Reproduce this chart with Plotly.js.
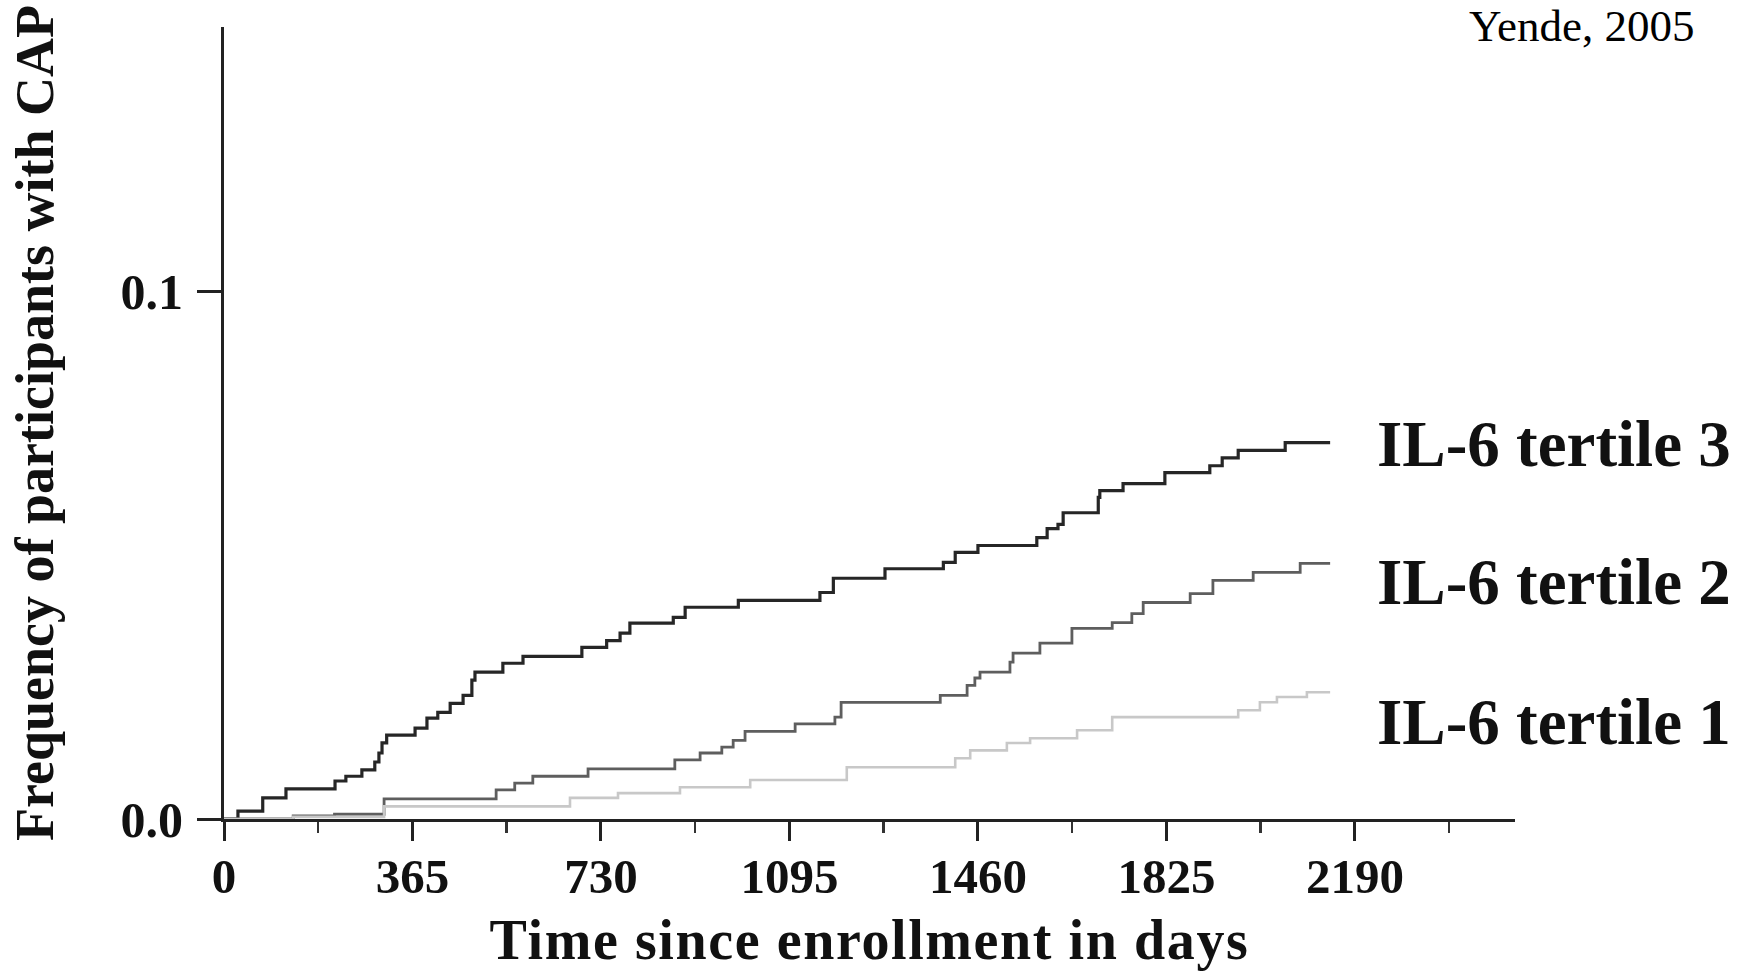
<!DOCTYPE html>
<html>
<head>
<meta charset="utf-8">
<script src="https://cdn.plot.ly/plotly-3.0.1.min.js"></script>
<style>
  html, body { margin: 0; padding: 0; background: #ffffff; }
  #chart { width: 1747px; height: 971px; }
  #chart text.xtitle { letter-spacing: 1.6px; }
</style>
</head>
<body>
<div id="chart"></div>
<script>
// ---- Data ----
const seriesNames = ["IL-6 tertile 3", "IL-6 tertile 2", "IL-6 tertile 1"];

const tertile3Days = [0, 27, 75, 120, 215, 236, 267, 292, 300, 306, 315, 370, 393, 414, 438, 463, 480, 486, 540, 579, 693, 741, 767, 786, 870, 893, 996, 1154, 1180, 1280, 1393, 1416, 1460, 1574, 1594, 1615, 1625, 1693, 1696, 1741, 1822, 1909, 1933, 1964, 2055, 2142];
const tertile3Vals = [0, 0.0015, 0.0040, 0.0057, 0.0072, 0.0081, 0.0093, 0.0108, 0.0125, 0.0144, 0.0159, 0.0172, 0.0191, 0.0202, 0.0219, 0.0234, 0.0263, 0.0278, 0.0295, 0.0308, 0.0325, 0.0338, 0.0352, 0.0371, 0.0382, 0.0401, 0.0414, 0.0429, 0.0456, 0.0474, 0.0486, 0.0505, 0.0518, 0.0533, 0.0550, 0.0558, 0.0580, 0.0609, 0.0622, 0.0635, 0.0656, 0.0669, 0.0684, 0.0698, 0.0713, 0.0713];

const tertile2Days = [0, 134, 214, 310, 527, 563, 598, 705, 873, 922, 964, 986, 1009, 1106, 1183, 1195, 1387, 1439, 1454, 1464, 1522, 1528, 1580, 1642, 1720, 1758, 1780, 1871, 1915, 1993, 2084, 2142];
const tertile2Vals = [0, 0.0006, 0.0009, 0.0038, 0.0055, 0.0068, 0.0081, 0.0095, 0.0112, 0.0125, 0.0136, 0.0149, 0.0166, 0.0180, 0.0193, 0.0221, 0.0234, 0.0253, 0.0267, 0.0278, 0.0297, 0.0314, 0.0333, 0.0361, 0.0372, 0.0389, 0.0410, 0.0427, 0.0452, 0.0467, 0.0484, 0.0484];

const tertile1Days = [0, 134, 310, 670, 763, 883, 1019, 1206, 1416, 1445, 1516, 1561, 1652, 1720, 1964, 2006, 2039, 2097, 2142];
const tertile1Vals = [0, 0.0004, 0.0024, 0.0040, 0.0049, 0.0060, 0.0074, 0.0098, 0.0115, 0.0130, 0.0144, 0.0153, 0.0168, 0.0193, 0.0206, 0.0221, 0.0231, 0.0240, 0.0240];

const xTickVals = [0, 365, 730, 1095, 1460, 1825, 2190];
const xTickText = ["0", "365", "730", "1095", "1460", "1825", "2190"];
const yTickVals = [0, 0.1];
const yTickText = ["0.0", "0.1"];

const xTitle = "Time since enrollment in days";
const yTitle = "Frequency of participants with CAP";
const sourceNote = "Yende, 2005";

// ---- Layout geometry (pixels) ----
const W = 1747, H = 971;
const M = { l: 224, r: 232, t: 27, b: 152 };
const plotW = W - M.l - M.r;
const plotH = H - M.t - M.b;
const px2paperX = px => (px - M.l) / plotW;
const px2paperY = py => (H - M.b - py) / plotH;

const serif = "Liberation Serif, Times New Roman, serif";

const traces = [
  { x: tertile3Days, y: tertile3Vals, name: seriesNames[0], mode: "lines",
    line: { shape: "hv", color: "#262626", width: 3.2 } },
  { x: tertile2Days, y: tertile2Vals, name: seriesNames[1], mode: "lines",
    line: { shape: "hv", color: "#5e5e5e", width: 2.8 } },
  { x: tertile1Days, y: tertile1Vals, name: seriesNames[2], mode: "lines",
    line: { shape: "hv", color: "#c8c8c8", width: 2.6 } }
];

const labelY = [444, 582, 722];
const annotations = seriesNames.map((n, i) => ({
  text: n, xref: "paper", yref: "paper",
  x: px2paperX(1375), y: px2paperY(labelY[i]),
  xanchor: "left", yanchor: "middle", showarrow: false,
  font: { family: serif, size: 65, color: "#111111", weight: "bold" }
}));
annotations.push({
  text: sourceNote, xref: "paper", yref: "paper",
  x: px2paperX(1467), y: px2paperY(26),
  xanchor: "left", yanchor: "middle", showarrow: false,
  font: { family: serif, size: 45, color: "#000000" }
});

const layout = {
  width: W, height: H,
  margin: M,
  paper_bgcolor: "#ffffff", plot_bgcolor: "#ffffff",
  showlegend: false,
  xaxis: {
    range: [0, 2500],
    showgrid: false, zeroline: false,
    showline: true, linecolor: "#222222", linewidth: 3,
    ticks: "outside", ticklen: 19, tickwidth: 3, tickcolor: "#222222",
    tickmode: "array", tickvals: xTickVals, ticktext: xTickText,
    ticklabelstandoff: -7,
    tickfont: { family: serif, size: 49, color: "#111111", weight: "bold" },
    minor: { tick0: 0, dtick: 182.5, ticks: "outside", ticklen: 11, tickwidth: 2.5, tickcolor: "#333333", showgrid: false },
    title: { text: xTitle, standoff: 56,
      font: { family: serif, size: 56, color: "#111111", weight: "bold" } },
    automargin: false
  },
  yaxis: {
    range: [0, 0.15],
    showgrid: false, zeroline: false,
    showline: true, linecolor: "#222222", linewidth: 3,
    ticks: "outside", ticklen: 24, tickwidth: 3, tickcolor: "#222222",
    tickmode: "array", tickvals: yTickVals, ticktext: yTickText,
    ticklabelstandoff: 4,
    tickfont: { family: serif, size: 50, color: "#111111", weight: "bold" },
    title: { text: yTitle, standoff: 50,
      font: { family: serif, size: 54, color: "#111111", weight: "bold" } },
    automargin: false
  },
  annotations: annotations
};

Plotly.newPlot("chart", traces, layout, { displayModeBar: false, staticPlot: true });
</script>
</body>
</html>
